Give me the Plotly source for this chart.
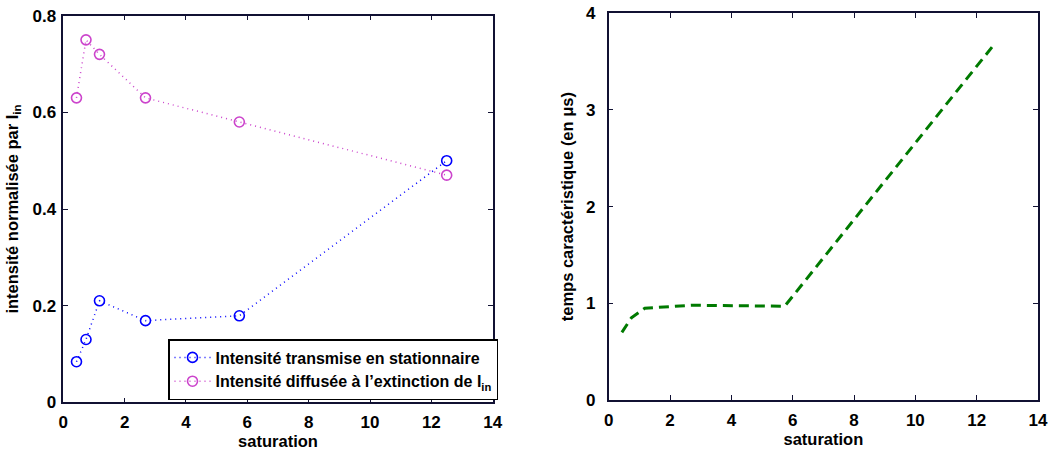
import plotly.graph_objects as go

# Data
saturation = [0.43, 0.74, 1.18, 2.68, 5.74, 12.5]
transmise = [0.084, 0.13, 0.21, 0.169, 0.179, 0.50]
diffusee = [0.63, 0.75, 0.72, 0.63, 0.58, 0.47]
temps = [0.70, 0.85, 0.95, 0.98, 0.97, 3.65]

x_ticks = [0, 2, 4, 6, 8, 10, 12, 14]
y1_ticks = [0, 0.2, 0.4, 0.6, 0.8]
y1_labels = ["0", "0.2", "0.4", "0.6", "0.8"]
y2_ticks = [0, 1, 2, 3, 4]

FONT = "Liberation Sans, Arial, Helvetica, sans-serif"
W, H = 1048, 450

fig = go.Figure()

fig.add_trace(go.Scatter(
    x=saturation, y=transmise, mode="lines+markers",
    name="Intensité transmise en stationnaire",
    line=dict(color="#0000ff", dash="1px,4px", width=1.5),
    marker=dict(symbol="circle-open", size=10, color="#0000ff", line=dict(width=1.6)),
    xaxis="x", yaxis="y",
))
fig.add_trace(go.Scatter(
    x=saturation, y=diffusee, mode="lines+markers",
    name="Intensité diffusée à l’extinction de I<sub>in</sub>",
    line=dict(color="#cc44cc", dash="1px,4px", width=1.5),
    marker=dict(symbol="circle-open", size=10, color="#cc44cc", line=dict(width=1.6)),
    xaxis="x", yaxis="y",
))
fig.add_trace(go.Scatter(
    x=saturation, y=temps, mode="lines",
    line=dict(color="#007a00", dash="10px,6px", width=3),
    showlegend=False, xaxis="x2", yaxis="y2",
))

axis_common = dict(
    showgrid=False, zeroline=False, showline=True, linecolor="#111133", linewidth=1.5,
    mirror="allticks", ticks="inside", ticklen=5, tickcolor="#111133",
    tickfont=dict(family=FONT, size=17, color="black", weight="bold"),
    automargin=False,
)

def px_x(a, b):
    return [a / W, b / W]

def px_y(top, bottom):
    return [1 - bottom / H, 1 - top / H]

title_font = dict(family=FONT, size=16.5, weight="bold")

fig.update_layout(
    width=W, height=H,
    margin=dict(l=0, r=0, t=0, b=0),
    paper_bgcolor="white", plot_bgcolor="white",
    font=dict(family=FONT, color="black"),
    xaxis=dict(axis_common, domain=px_x(63.3, 492.7), range=[0, 14], tickvals=x_ticks,
               anchor="y", ticklabelstandoff=4,
               title=dict(text="saturation", standoff=4, font=title_font)),
    yaxis=dict(axis_common, domain=px_y(15.7, 402.3), range=[0, 0.8], tickvals=y1_ticks,
               ticktext=y1_labels, anchor="x", ticklabelstandoff=2,
               title=dict(text="intensité normalisée par I<sub>in</sub>", standoff=10,
                          font=title_font)),
    xaxis2=dict(axis_common, domain=px_x(608.7, 1038), range=[0, 14], tickvals=x_ticks,
                anchor="y2", ticklabelstandoff=4,
                title=dict(text="saturation", standoff=4, font=title_font)),
    yaxis2=dict(axis_common, domain=px_y(13.3, 400), range=[0, 4], tickvals=y2_ticks,
                anchor="x2", ticklabelstandoff=8,
                title=dict(text="temps caractéristique (en μs)", standoff=8,
                           font=title_font)),
    legend=dict(
        x=168 / W, y=1 - 339 / H, xanchor="left", yanchor="top",
        bordercolor="black", borderwidth=1.5, bgcolor="white",
        font=dict(family=FONT, size=16, weight="bold"),
        tracegroupgap=0, itemwidth=36,
    ),
)

fig.write_html("out.html", config={"displayModeBar": False},
               post_script="document.body.style.margin='0';document.body.style.overflow='hidden';")
